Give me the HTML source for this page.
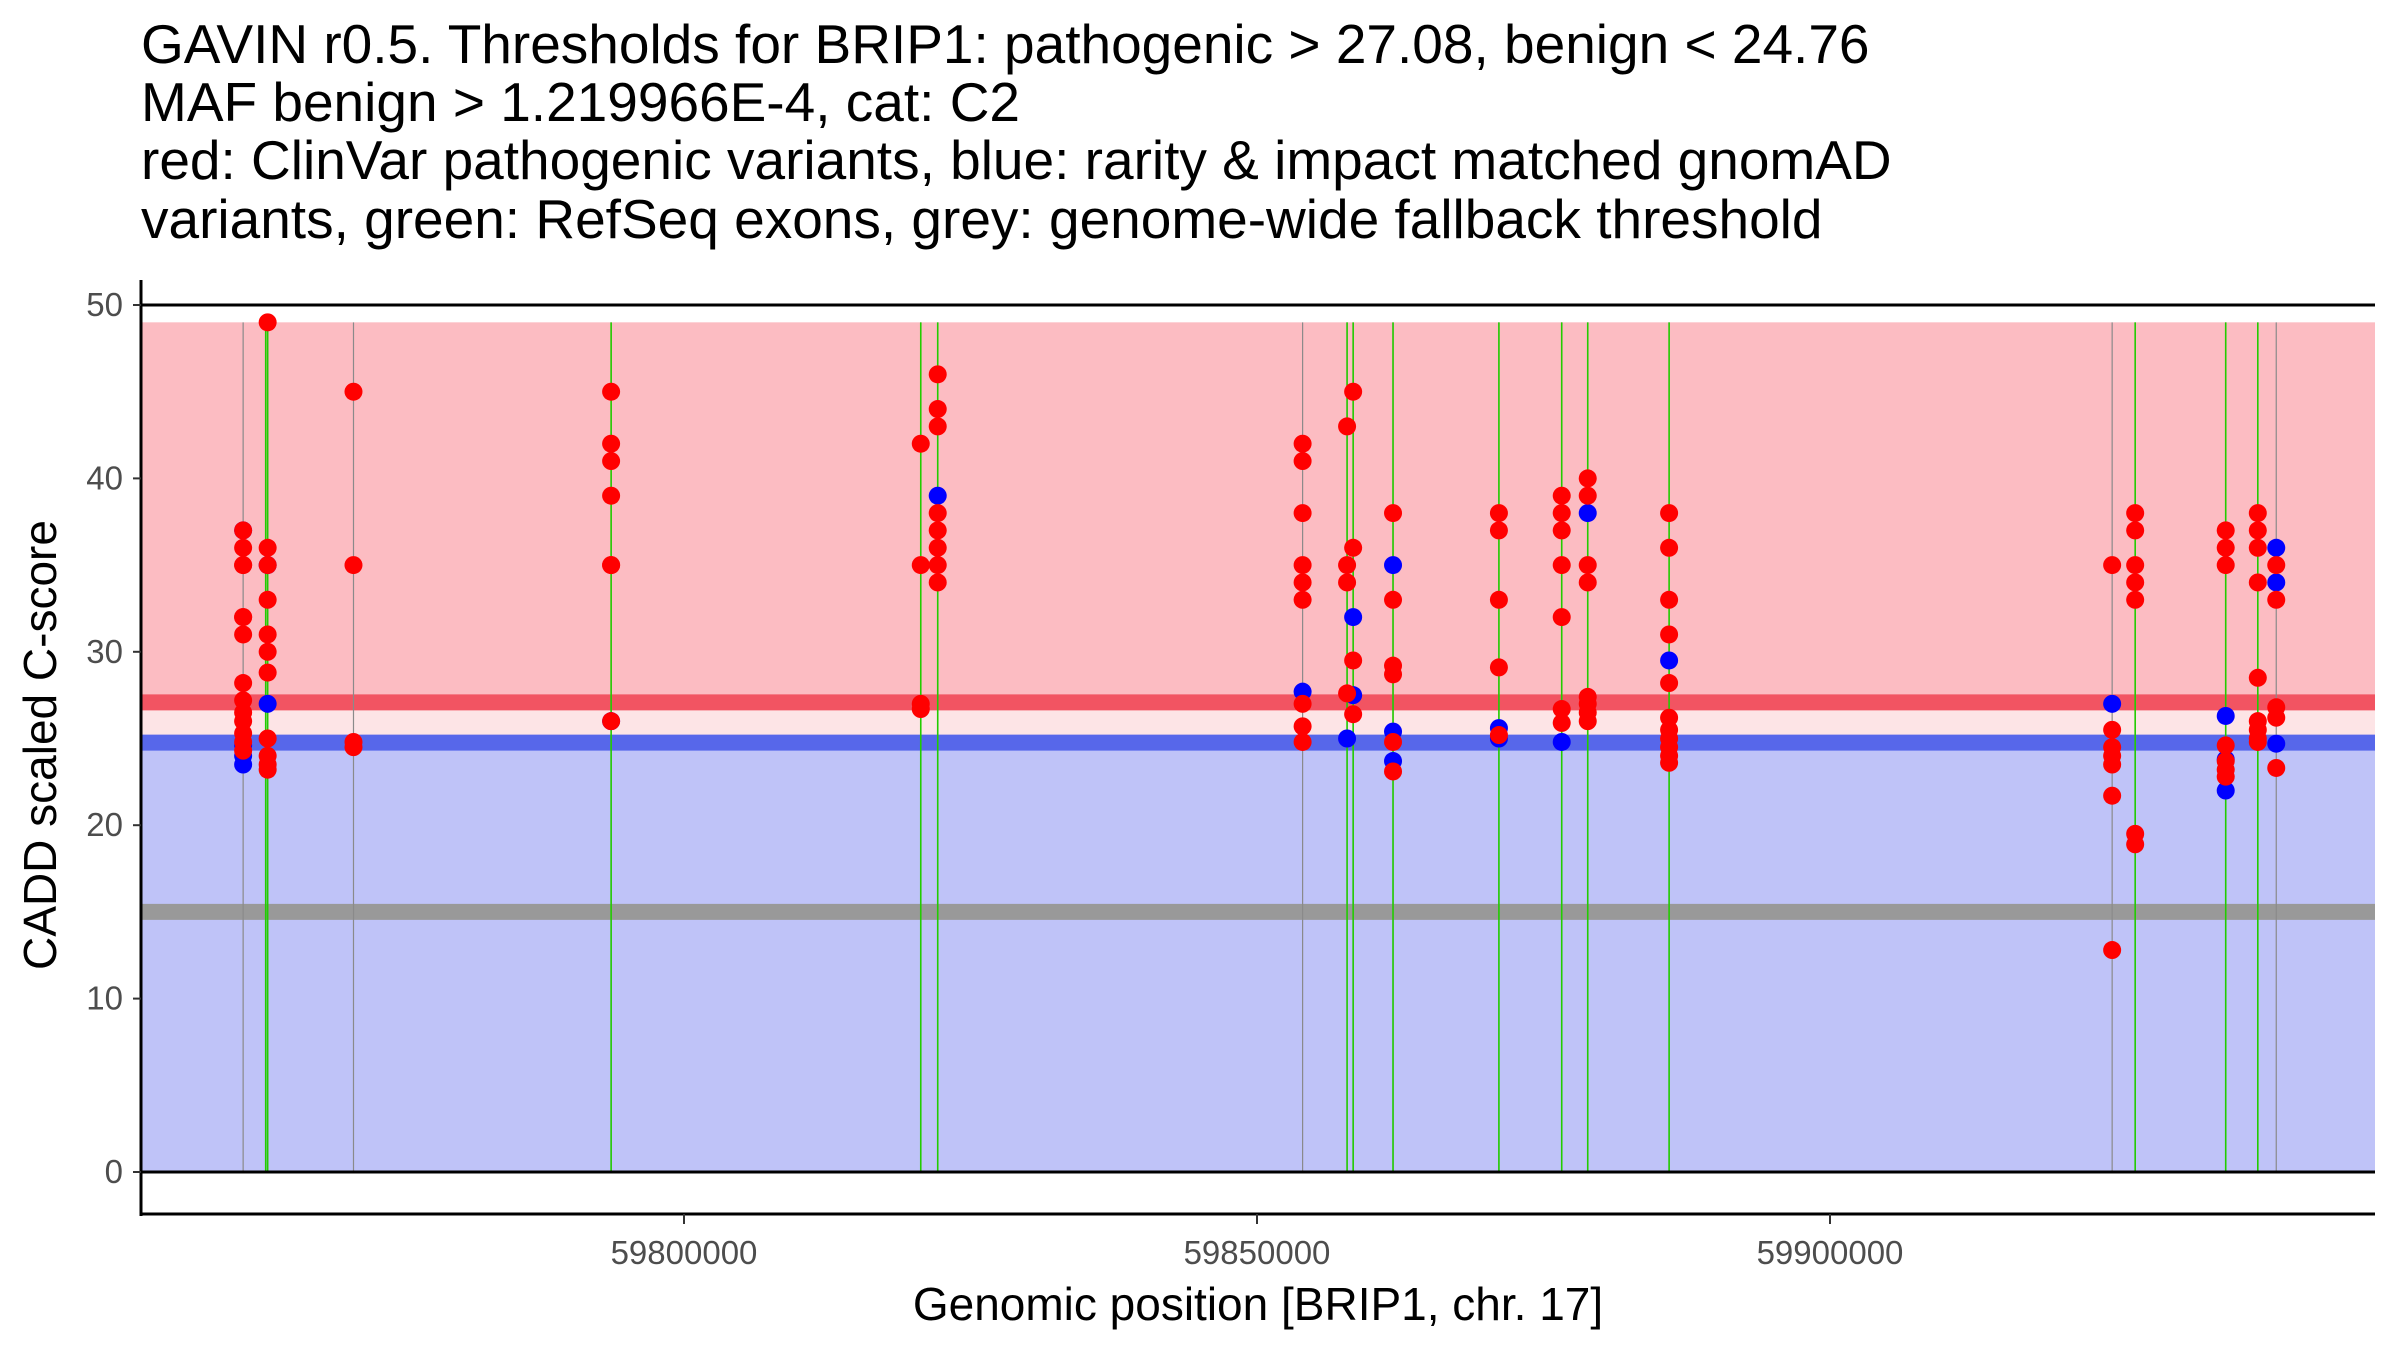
<!DOCTYPE html>
<html><head><meta charset="utf-8"><style>
html,body{margin:0;padding:0;background:#fff}
svg{display:block;font-family:"Liberation Sans",Arial,sans-serif}
</style></head><body>
<svg id="chart" width="2400" height="1350" viewBox="0 0 2400 1350" xmlns="http://www.w3.org/2000/svg">
<g font-size="55" fill="#000">
<text x="141" y="63">GAVIN r0.5. Thresholds for BRIP1: pathogenic &gt; 27.08, benign &lt; 24.76</text>
<text x="141" y="121">MAF benign &gt; 1.219966E-4, cat: C2</text>
<text x="141" y="179">red: ClinVar pathogenic variants, blue: rarity &amp; impact matched gnomAD</text>
<text x="141" y="238">variants, green: RefSeq exons, grey: genome-wide fallback threshold</text>
</g>
<g id="plot"></g>
<text x="1258" y="1320" font-size="46" text-anchor="middle" fill="#000">Genomic position [BRIP1, chr. 17]</text>
<text transform="translate(56,745) rotate(-90)" font-size="46" text-anchor="middle" fill="#000">CADD scaled C-score</text>
</svg>
<script>
const pathoThreshold = 27.08;
const benignThreshold = 24.76;
const fallbackThreshold = 15;
const maxScore = 49;
const xTicks = [59800000, 59850000, 59900000];
const yTicks = [0, 10, 20, 30, 40, 50];
const variantPositions = [59761530, 59763670, 59771160, 59793640, 59820660, 59822140, 59853980, 59857860, 59858390, 59861870, 59871110, 59876590, 59878860, 59885960, 59924620, 59926630, 59934530, 59937330, 59938940];
const exonPositions = [59763670, 59763500, 59793640, 59820660, 59822140, 59857860, 59858390, 59861870, 59871110, 59876590, 59878860, 59885960, 59926630, 59934530, 59937330];
const redPos = [];
const redScore = [];
const bluePos = [];
const blueScore = [];
const redClusters = [
 [59761530,[37,36,35,35,32,32,31,28.2,27.2,26.5,26,25.3,24.8,24.3]],
 [59763670,[49,36,35,33,31,30,28.8,25,24,23.5,23.2]],
 [59771160,[45,35,24.8,24.5]],
 [59793640,[45,42,41,39,35,35,26]],
 [59820660,[42,35,27,26.7]],
 [59822140,[46,44,43,38,37,36,35,34]],
 [59853980,[42,41,38,35,34,33,27,25.7,24.8]],
 [59857860,[43,35,34,27.6]],
 [59858390,[45,36,29.5,26.4]],
 [59861870,[38,33,29.2,28.7,24.8,23.1]],
 [59871110,[38,37,33,29.1,25.2]],
 [59876590,[39,38,37,35,32,26.7,25.9]],
 [59878860,[40,39,35,34,27.4,27,26.5,26]],
 [59885960,[38,36,33,31,28.2,26.2,25.5,25,24.5,24,23.6]],
 [59924620,[35,25.5,24.5,24,23.5,21.7,12.8]],
 [59926630,[38,37,35,34,33,19.5,18.9]],
 [59934530,[37,36,35,24.6,23.7,23.2,22.8]],
 [59937330,[38,37,36,34,28.5,26,25.5,25,24.8]],
 [59938940,[35,33,26.8,26.2,23.3]]
];
const blueClusters = [
 [59761530,[37,24.6,23.5,24]],
 [59763670,[35,27]],
 [59793640,[26]],
 [59822140,[39]],
 [59853980,[27.7]],
 [59857860,[25]],
 [59858390,[32,27.5]],
 [59861870,[35,25.4,23.7]],
 [59871110,[25.6,25]],
 [59876590,[24.8]],
 [59878860,[38]],
 [59885960,[29.5]],
 [59924620,[27]],
 [59934530,[26.3,22,23.8]],
 [59938940,[36,34,24.7]]
];
redClusters.forEach(c=>c[1].forEach(v=>{redPos.push(c[0]);redScore.push(v);}));
blueClusters.forEach(c=>c[1].forEach(v=>{bluePos.push(c[0]);blueScore.push(v);}));

const X0=141, X1=2375;
function xs(p){return 684+(p-59800000)*573/50000;}
function ys(v){return 1172-v*17.34;}
const NS="http://www.w3.org/2000/svg";
const plot=document.getElementById('plot');
function mk(tag,attrs,parent){const e=document.createElementNS(NS,tag);for(const k in attrs)e.setAttribute(k,attrs[k]);(parent||plot).appendChild(e);return e;}

let r=mk('rect',{x:X0,y:ys(maxScore),width:X1-X0,height:ys(pathoThreshold)-ys(maxScore),fill:'#fcbcc2'});


r=mk('rect',{x:X0,y:ys(pathoThreshold),width:X1-X0,height:ys(benignThreshold)-ys(pathoThreshold),fill:'#fde4e6'});


r=mk('rect',{x:X0,y:ys(benignThreshold),width:X1-X0,height:ys(0)-ys(benignThreshold),fill:'#bfc3f8'});



let l=mk('line',{x1:X0,x2:X1,y1:ys(fallbackThreshold),y2:ys(fallbackThreshold),stroke:'#999999','stroke-width':16});


l=mk('line',{x1:X0,x2:X1,y1:ys(pathoThreshold),y2:ys(pathoThreshold),stroke:'#f25462','stroke-width':16});


l=mk('line',{x1:X0,x2:X1,y1:ys(benignThreshold),y2:ys(benignThreshold),stroke:'#5767ea','stroke-width':16});



variantPositions.forEach(p=>{
 const e=mk('line',{x1:xs(p),x2:xs(p),y1:ys(0),y2:ys(maxScore),stroke:'#8a8a8a','stroke-width':1.2});
 
 
});
exonPositions.forEach(p=>{
 const e=mk('line',{x1:xs(p),x2:xs(p),y1:ys(0),y2:ys(maxScore),stroke:'#22cc00','stroke-width':1.6});
 
 
});
[0,50].forEach(v=>{
 const e=mk('line',{x1:X0,x2:X1,y1:ys(v),y2:ys(v),stroke:'#000','stroke-width':3});
 
 
});
bluePos.forEach((p,i)=>{
 const e=mk('circle',{cx:xs(p),cy:ys(blueScore[i]),r:9,fill:'#0000ff'});
 
 
});
redPos.forEach((p,i)=>{
 const e=mk('circle',{cx:xs(p),cy:ys(redScore[i]),r:9,fill:'#ff0000'});
 
 
});
l=mk('line',{x1:X0,x2:X0,y1:280,y2:1216,stroke:'#000','stroke-width':3});


l=mk('line',{x1:X0-1.5,x2:X1,y1:1214,y2:1214,stroke:'#000','stroke-width':3});


yTicks.forEach(v=>{
 const t=mk('line',{x1:X0-8,x2:X0,y1:ys(v),y2:ys(v),stroke:'#333','stroke-width':2});
 
 
 const tx=mk('text',{x:X0-18,y:ys(v)+11,'font-size':33,'text-anchor':'end',fill:'#4d4d4d'});
 tx.textContent=v;
 
 
});
xTicks.forEach(v=>{
 const t=mk('line',{x1:xs(v),x2:xs(v),y1:1214,y2:1224,stroke:'#333','stroke-width':2});
 
 
 const tx=mk('text',{x:xs(v),y:1264,'font-size':33,'text-anchor':'middle',fill:'#4d4d4d'});
 tx.textContent=v;
 
 
});
</script>
</body></html>
